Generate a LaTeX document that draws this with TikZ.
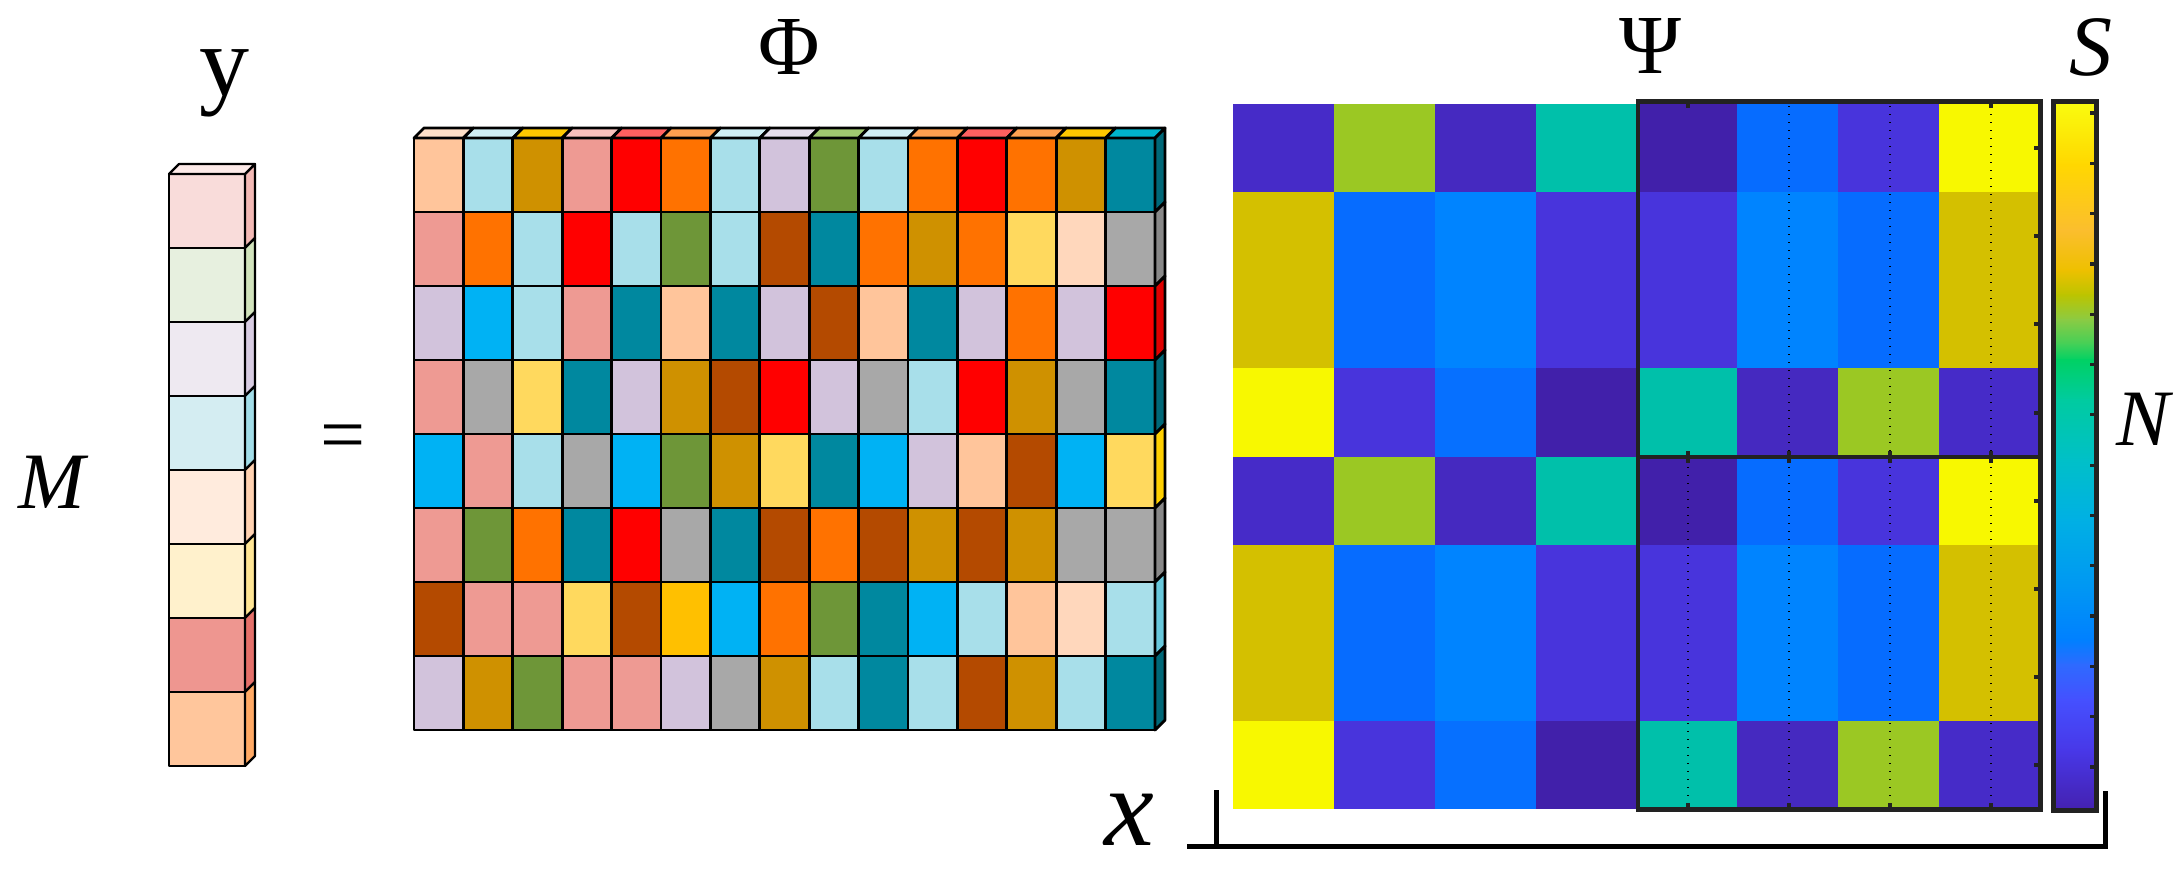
\documentclass[tikz,border=0pt]{standalone}
\usepackage{fontspec}
\setmainfont{Liberation Serif}
% vector colours
\definecolor{vf1}{HTML}{F9DCDA}\definecolor{vs1}{HTML}{F3B9B5}
\definecolor{vf2}{HTML}{E7F0DF}\definecolor{vs2}{HTML}{D1E3BC}
\definecolor{vf3}{HTML}{EEE9F1}\definecolor{vs3}{HTML}{D8CCE2}
\definecolor{vf4}{HTML}{D4EDF2}\definecolor{vs4}{HTML}{A2DDE8}
\definecolor{vf5}{HTML}{FFEBDD}\definecolor{vs5}{HTML}{FFD1B0}
\definecolor{vf6}{HTML}{FFF1CC}\definecolor{vs6}{HTML}{FFE594}
\definecolor{vf7}{HTML}{EE9690}\definecolor{vs7}{HTML}{E4706A}
\definecolor{vf8}{HTML}{FFC69C}\definecolor{vs8}{HTML}{FFA964}
\definecolor{vtop}{HTML}{FDEAE8}
% Phi palette
\definecolor{pe}{HTML}{FFC59B}\definecolor{lb}{HTML}{A8DFEA}
\definecolor{go}{HTML}{CF9100}\definecolor{sa}{HTML}{EE9A93}
\definecolor{rd}{HTML}{FF0000}\definecolor{or}{HTML}{FF7200}
\definecolor{la}{HTML}{D2C3DC}\definecolor{gr}{HTML}{6E9638}
\definecolor{te}{HTML}{00889F}\definecolor{br}{HTML}{B44A00}
\definecolor{ye}{HTML}{FFD95E}\definecolor{lp}{HTML}{FFD7BC}
\definecolor{gy}{HTML}{A8A8A8}\definecolor{sb}{HTML}{00B2F4}
\definecolor{am}{HTML}{FFC000}
% top faces
\definecolor{tpe}{HTML}{FFE0C8}\definecolor{tlb}{HTML}{D0EEF4}
\definecolor{tgo}{HTML}{FFC800}\definecolor{tsa}{HTML}{F8C0BC}
\definecolor{trd}{HTML}{FF6060}\definecolor{tor}{HTML}{FFA050}
\definecolor{tla}{HTML}{E6DEEC}\definecolor{tgr}{HTML}{A0C870}
\definecolor{tte}{HTML}{00B4CC}
% side faces
\definecolor{ste}{HTML}{006878}\definecolor{sgy}{HTML}{888888}
\definecolor{srd}{HTML}{E00000}\definecolor{sye}{HTML}{FFD000}
\definecolor{slb}{HTML}{68C8DC}
% heatmap
\definecolor{hp}{HTML}{462BC8}\definecolor{hp2}{HTML}{4529C0}
\definecolor{hg}{HTML}{9BC823}\definecolor{ht}{HTML}{00C0AA}
\definecolor{hd}{HTML}{4120AA}\definecolor{hb}{HTML}{066CFF}
\definecolor{hv}{HTML}{4834DC}\definecolor{hy}{HTML}{F8F800}
\definecolor{ho}{HTML}{D4C000}\definecolor{ha}{HTML}{0084FF}
\definecolor{hb3}{HTML}{0670FF}
\definecolor{axgray}{HTML}{222222}
% colorbar stops
\definecolor{c1}{HTML}{F9FB0E}\definecolor{c2}{HTML}{FFD700}
\definecolor{c3}{HTML}{FBBE2E}\definecolor{c4}{HTML}{EEC000}
\definecolor{c5}{HTML}{BCC400}\definecolor{c6}{HTML}{8ACB44}
\definecolor{c7}{HTML}{40D058}\definecolor{c8}{HTML}{00D164}
\definecolor{c9}{HTML}{00CBA0}\definecolor{c10}{HTML}{00C0C8}
\definecolor{c11}{HTML}{00B0E4}\definecolor{c12}{HTML}{0096F4}
\definecolor{c13}{HTML}{0080FF}\definecolor{c14}{HTML}{2E6AFF}
\definecolor{c15}{HTML}{4550FF}\definecolor{c16}{HTML}{4838E8}
\definecolor{c17}{HTML}{4421B0}
\begin{document}
\begin{tikzpicture}[x=0.5pt,y=-0.5pt,
  cell/.style={draw=black,line width=1.4pt,line join=round},
  vcell/.style={draw=black,line width=1.1pt,line join=round},
  axbox/.style={draw=axgray,line width=2.25pt},
  tickmark/.style={draw=axgray,line width=1.6pt},
  dotgrid/.style={draw=black,line width=0.7pt,dash pattern=on 0.6pt off 3.4pt},
  lab/.style={inner sep=0pt,anchor=base},
  brk/.style={draw=black,line width=2.5pt,line join=miter}]
\useasboundingbox (0,0) rectangle (2184,869);

% ---------- vector y ----------
\foreach \c/\s [count=\r] in {vf1/vs1,vf2/vs2,vf3/vs3,vf4/vs4,vf5/vs5,vf6/vs6,vf7/vs7,vf8/vs8} {
  \filldraw[vcell,fill=\c] (169,{174+(\r-1)*74}) rectangle ++(76,74);
  \filldraw[vcell,fill=\s] (245,{174+(\r-1)*74}) -- ++(10,-10) -- ++(0,74) -- ++(-10,10) -- cycle;
}
\filldraw[vcell,fill=vtop] (169,174) -- ++(10,-10) -- ++(76,0) -- ++(-10,10) -- cycle;

% ---------- matrix Phi ----------
\foreach \rowlist [count=\r] in {
  {pe,lb,go,sa,rd,or,lb,la,gr,lb,or,rd,or,go,te},
  {sa,or,lb,rd,lb,gr,lb,br,te,or,go,or,ye,lp,gy},
  {la,sb,lb,sa,te,pe,te,la,br,pe,te,la,or,la,rd},
  {sa,gy,ye,te,la,go,br,rd,la,gy,lb,rd,go,gy,te},
  {sb,sa,lb,gy,sb,gr,go,ye,te,sb,la,pe,br,sb,ye},
  {sa,gr,or,te,rd,gy,te,br,or,br,go,br,go,gy,gy},
  {br,sa,sa,ye,br,am,sb,or,gr,te,sb,lb,pe,lp,lb},
  {la,go,gr,sa,sa,la,gy,go,lb,te,lb,br,go,lb,te}} {
  \foreach \c [count=\k] in \rowlist {
    \filldraw[cell,fill=\c] ({414+(\k-1)*49.4},{138+(\r-1)*74}) rectangle ++(49.4,74);
  }
}
\foreach \c [count=\k] in {tpe,tlb,tgo,tsa,trd,tor,tlb,tla,tgr,tlb,tor,trd,tor,tgo,tte} {
  \filldraw[cell,fill=\c] ({414+(\k-1)*49.4},138) -- ++(10,-10) -- ++(49.4,0) -- ++(-10,10) -- cycle;
}
\foreach \s [count=\r] in {ste,sgy,srd,ste,sye,sgy,slb,ste} {
  \filldraw[cell,fill=\s] (1155,{138+(\r-1)*74}) -- ++(10,-10) -- ++(0,74) -- ++(-10,10) -- cycle;
}

% ---------- heat map ----------
\foreach \rowlist [count=\r] in {
  {hp,hg,hp2,ht,hd,hb,hv,hy},
  {ho,hb,ha,hv,hv,ha,hb,ho},
  {ho,hb,ha,hv,hv,ha,hb,ho},
  {hy,hv,hb3,hd,ht,hp2,hg,hp},
  {hp,hg,hp2,ht,hd,hb,hv,hy},
  {ho,hb,ha,hv,hv,ha,hb,ho},
  {ho,hb,ha,hv,hv,ha,hb,ho},
  {hy,hv,hb3,hd,ht,hp2,hg,hp}} {
  \foreach \c [count=\k] in \rowlist {
    \fill[\c] ({1233+(\k-1)*100.875},{104+(\r-1)*88.125}) rectangle ++(101.2,88.4);
  }
}
% dotted grid lines
\foreach \xx in {1789,1890,1991} \draw[dotgrid] (\xx,106) -- (\xx,455);
\foreach \xx in {1688,1789,1890,1991} \draw[dotgrid] (\xx,459) -- (\xx,807);
% ticks
\foreach \xx in {1688,1991} \draw[tickmark] (\xx,102) -- ++(0,6);
\foreach \xx in {1688,1789,1890,1991} {
  \draw[tickmark] (\xx,457) -- ++(0,-6);
  \draw[tickmark] (\xx,457) -- ++(0,6);
  \draw[tickmark] (\xx,809) -- ++(0,-6);
}
\foreach \yy in {148,236,324,413,501,589,677,765} \draw[tickmark] (2040,\yy) -- ++(-6,0);
% axes boxes
\draw[axbox] (1638,101.5) rectangle (2040.5,457);
\draw[axbox] (1638,457) rectangle (2040.5,809.5);

% ---------- colour bar ----------
\foreach \ya/\yb/\i/\j in {104/165/1/2,165/230/2/3,230/270/3/4,270/295/4/5,295/320/5/6,
  320/345/6/7,345/360/7/8,360/400/8/9,400/460/9/10,460/520/10/11,520/590/11/12,
  590/640/12/13,640/665/13/14,665/700/14/15,700/750/15/16,750/809/16/17} {
  \shade[top color=c\i,bottom color=c\j] (2055,\ya-0.5) rectangle (2095,\yb+0.5);
}
\foreach \k in {0,...,13} \draw[tickmark] (2095,{113+\k*50.3}) -- ++(-5,0);
\draw[axbox] (2053.5,101.5) rectangle (2096.5,810.5);

% ---------- bracket ----------
\coordinate (bl) at (1187,846);
\coordinate (bc) at (2105,846);
\coordinate (bt) at (2105,791);
\coordinate (tb) at (1216,846);
\coordinate (tt) at (1216,790);
\draw[brk] (bl) -- (bc) -- (bt);
\draw[brk] (tb) -- (tt);

% ---------- labels ----------
\node[lab,font=\fontsize{50}{50}\selectfont] (ylab) at (224,95) {y};
\node[lab,font=\fontsize{40}{40}\selectfont\itshape] (mlab) at (52,508) {M};
\node[lab,font=\fontsize{40}{40}\selectfont] (eqlab) at (343,461) {=};
\node[lab,font=\fontsize{42}{42}\selectfont] (philab) at (789,74) {Φ};
\node[lab,font=\fontsize{42}{42}\selectfont] (psilab) at (1650,73) {Ψ};
\node[lab,font=\fontsize{43}{43}\selectfont\itshape] (slab) at (2091,75) {S};
\node[lab,font=\fontsize{40}{40}\selectfont\itshape] (nlab) at (2143,445) {N};
\node[lab,font=\fontsize{56}{56}\selectfont\itshape] (xlab) at (1129,845) {x};
\end{tikzpicture}
\end{document}
